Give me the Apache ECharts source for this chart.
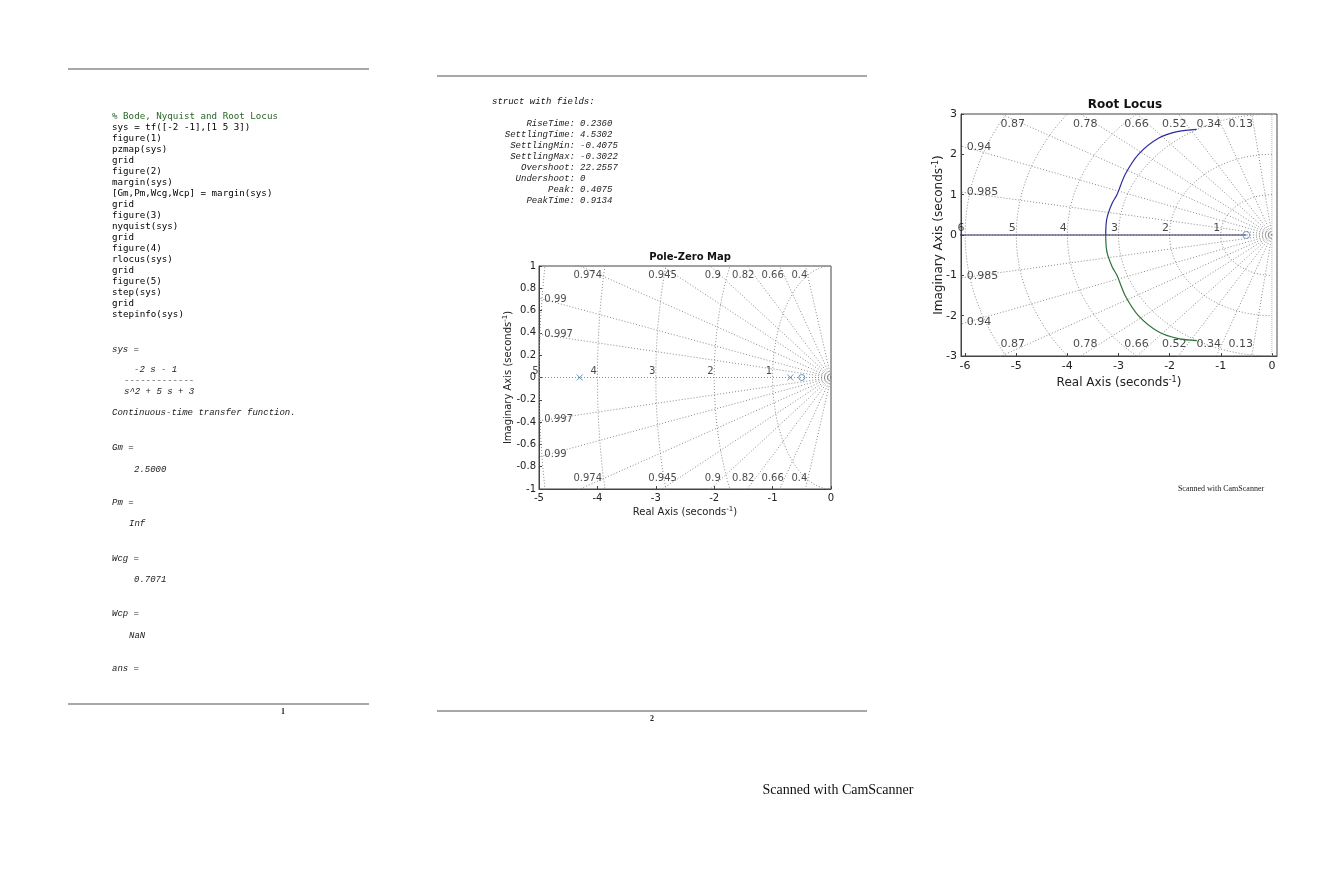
<!DOCTYPE html>
<html lang="en">
<head>
<meta charset="UTF-8">
<title>Pole-Zero Map / Root Locus</title>
<style>
html, body { margin: 0; padding: 0; background: #fff; }
#main { width: 1341px; height: 887px; }
</style>
</head>
<body>
<div id="main"></div>
<script src="https://cdn.jsdelivr.net/npm/echarts/dist/echarts.min.js"></script>
<script>
// --- data ---
var pzPoles = [[-4.303, 0], [-0.697, 0]];
var pzZeros = [[-0.5, 0]];
var pzDamping = [0.4, 0.66, 0.82, 0.9, 0.945, 0.974, 0.99, 0.997];
var pzFreq = [1, 2, 3, 4, 5];

var rlDamping = [0.13, 0.34, 0.52, 0.66, 0.78, 0.87, 0.94, 0.985];
var rlFreq = [1, 2, 3, 4, 5, 6];
var rlReal = [[-6.1, 0], [-0.5, 0]];
var rlUpper = [[-3.25, 0], [-3.24, 0.3], [-3.21, 0.5], [-3.12, 0.8], [-3.03, 1.0], [-2.87, 1.5],
               [-2.61, 2.0], [-2.22, 2.4], [-1.83, 2.57], [-1.47, 2.62]];
var rlLower = [[-3.25, 0], [-3.24, -0.3], [-3.21, -0.5], [-3.12, -0.8], [-3.03, -1.0], [-2.87, -1.5],
               [-2.61, -2.0], [-2.22, -2.4], [-1.83, -2.57], [-1.47, -2.62]];
var rlZeros = [[-0.5, 0]];

var codeLines = [
  'sys = tf([-2 -1],[1 5 3])', 'figure(1)', 'pzmap(sys)', 'grid', 'figure(2)', 'margin(sys)',
  '[Gm,Pm,Wcg,Wcp] = margin(sys)', 'grid', 'figure(3)', 'nyquist(sys)', 'grid', 'figure(4)',
  'rlocus(sys)', 'grid', 'figure(5)', 'step(sys)', 'grid', 'stepinfo(sys)'
];
var stepFields = ['RiseTime:', 'SettlingTime:', 'SettlingMin:', 'SettlingMax:', 'Overshoot:', 'Undershoot:', 'Peak:', 'PeakTime:'];
var stepValues = ['0.2360', '4.5302', '-0.4075', '-0.3022', '22.2557', '0', '0.4075', '0.9134'];

var SANS = '"DejaVu Sans", sans-serif';
var MONO = '"DejaVu Sans Mono", monospace';
var CMONO = '"Liberation Mono", monospace';
var SERIF = '"Liberation Serif", serif';
var GRIDC = '#8a8a8a';

// sgrid helpers
function dampLines(zs) {
  var out = [];
  zs.forEach(function (z) {
    var s = Math.sqrt(1 - z * z);
    out.push({ coords: [[0, 0], [-20 * z, 20 * s]] });
    out.push({ coords: [[0, 0], [-20 * z, -20 * s]] });
  });
  out.push({ coords: [[0, 0], [-20, 0]] });
  return out;
}
function freqArcs(ws) {
  return ws.map(function (w) {
    var pts = [];
    for (var a = 90; a <= 270; a += 3) {
      var t = a * Math.PI / 180;
      pts.push([w * Math.cos(t), w * Math.sin(t)]);
    }
    return { coords: pts };
  });
}
function dampLabels(zs, xmin, ymax) {
  var items = [];
  zs.forEach(function (z) {
    var k = Math.sqrt(1 - z * z) / z;
    var yt = 0.91 * ymax, xt = -yt / k;
    if (xt > xmin * 0.9) {
      items.push({ name: String(z), value: [xt, yt], label: { align: 'right' } });
      items.push({ name: String(z), value: [xt, -yt], label: { align: 'right' } });
    } else {
      var xl = xmin * 0.98;
      items.push({ name: String(z), value: [xl, -xl * k], label: { align: 'left' } });
      items.push({ name: String(z), value: [xl, xl * k], label: { align: 'left' } });
    }
  });
  return items;
}
function freqLabels(ws) {
  return ws.map(function (w) { return { name: String(w), value: [-w, 0] }; });
}

function gridSeries(idx, zs, ws, xmin, ymax, fs) {
  return [
    { type: 'lines', coordinateSystem: 'cartesian2d', xAxisIndex: idx, yAxisIndex: idx,
      polyline: true, clip: true, silent: true, z: 1,
      lineStyle: { color: GRIDC, width: 1, type: [1, 2], opacity: 1 },
      data: dampLines(zs).concat(freqArcs(ws)) },
    { type: 'scatter', xAxisIndex: idx, yAxisIndex: idx, symbolSize: 1, silent: true, z: 3,
      itemStyle: { color: 'transparent' },
      label: { show: true, position: [0, 0], verticalAlign: 'middle', fontSize: fs, fontFamily: SANS,
               color: '#1a1a1a', formatter: function (p) { return p.name; } },
      data: dampLabels(zs, xmin, ymax) },
    { type: 'scatter', xAxisIndex: idx, yAxisIndex: idx, symbolSize: 1, silent: true, z: 3,
      itemStyle: { color: 'transparent' },
      label: { show: true, position: [0, -1], align: 'right', verticalAlign: 'bottom', fontSize: fs,
               fontFamily: SANS, color: '#1a1a1a', formatter: function (p) { return p.name; } },
      data: freqLabels(ws) }
  ];
}

function axisCommon(fs, nameFs) {
  return {
    type: 'value',
    axisLine: { show: true, onZero: false, lineStyle: { color: '#444', width: 1 } },
    axisTick: { show: true, inside: true, length: 3, lineStyle: { color: '#444' } },
    splitLine: { show: false },
    axisLabel: { fontSize: fs, color: '#222', fontFamily: SANS },
    nameLocation: 'middle',
    nameMoveOverlap: false,
    nameTextStyle: { fontSize: nameFs, color: '#222', fontFamily: SANS,
      rich: { s: { fontSize: Math.round(nameFs * 0.7), fontFamily: SANS, color: '#222', verticalAlign: 'top', padding: [0, 0, nameFs * 0.5, 0] } } }
  };
}

// --- page text ---
var g = [];
function txt(t, x, y, font, fill, align) {
  g.push({ type: 'text', x: x, y: y, silent: true,
    style: { text: t, font: font, fill: fill || '#222', align: align || 'left', verticalAlign: 'middle' } });
}
function hline(x1, x2, y) {
  g.push({ type: 'line', silent: true, shape: { x1: x1, y1: y, x2: x2, y2: y },
    style: { stroke: '#a8a8a8', lineWidth: 2 } });
}
hline(68, 369, 69); hline(68, 369, 704);
hline(437, 867, 76); hline(437, 867, 711);
txt('1', 283, 712, 'bold 8px ' + SERIF, '#222', 'center');
txt('2', 652, 719, 'bold 8px ' + SERIF, '#222', 'center');

txt('% Bode, Nyquist and Root Locus', 112, 117, '9.2px ' + MONO, '#2a662a');
codeLines.forEach(function (l, i) { txt(l, 112, 128 + i * 11, '9.2px ' + MONO, '#000'); });

var IT = 'italic 9px ' + CMONO;
txt('sys =', 112, 350, IT, '#222');
txt('-2 s - 1', 134, 370, IT, '#222');
txt('-------------', 124, 381, IT, '#222');
txt('s^2 + 5 s + 3', 124, 392, IT, '#222');
txt('Continuous-time transfer function.', 112, 413, IT, '#222');
txt('Gm =', 112, 448, IT, '#222');
txt('2.5000', 134, 470, IT, '#222');
txt('Pm =', 112, 503, IT, '#222');
txt('Inf', 129, 524, IT, '#222');
txt('Wcg =', 112, 559, IT, '#222');
txt('0.7071', 134, 580, IT, '#222');
txt('Wcp =', 112, 614, IT, '#222');
txt('NaN', 129, 636, IT, '#222');
txt('ans =', 112, 669, IT, '#222');

txt('struct with fields:', 492, 102, IT, '#111');
stepFields.forEach(function (f, i) {
  txt(f, 575, 124 + i * 11, IT, '#222', 'right');
  txt(stepValues[i], 580, 124 + i * 11, IT, '#222');
});

txt('Scanned with CamScanner', 1221, 489, '8px ' + SERIF, '#222', 'center');
txt('Scanned with CamScanner', 838, 790, '14px ' + SERIF, '#111', 'center');

// --- chart ---
var chart = echarts.init(document.getElementById('main'));

var xPZ = axisCommon(10, 10);
Object.assign(xPZ, { gridIndex: 0, min: -5, max: 0, interval: 1, name: 'Real Axis (seconds{s|-1})', nameGap: 17 });
xPZ.axisLabel.margin = 4;
var yPZ = axisCommon(10, 10);
Object.assign(yPZ, { gridIndex: 0, min: -1, max: 1, interval: 0.2, name: 'Imaginary Axis (seconds{s|-1})', nameGap: 25 });
yPZ.axisLabel.margin = 3;

var xRL = axisCommon(11, 12);
Object.assign(xRL, { gridIndex: 1, min: -6.08, max: 0.1, splitNumber: 6, name: 'Real Axis (seconds{s|-1})', nameGap: 20 });
xRL.axisLabel.margin = 5;
xRL.axisLabel.showMinLabel = false;
xRL.axisLabel.showMaxLabel = false;
xRL.axisLabel.formatter = function (v) { return Math.abs(v - Math.round(v)) < 1e-6 ? String(Math.round(v)) : ''; };
var yRL = axisCommon(11, 12);
Object.assign(yRL, { gridIndex: 1, min: -3, max: 3, interval: 1, name: 'Imaginary Axis (seconds{s|-1})', nameGap: 15 });
yRL.axisLabel.margin = 4;

var series = []
  .concat(gridSeries(0, pzDamping, pzFreq, -5, 1, 10))
  .concat(gridSeries(1, rlDamping, rlFreq, -6.08, 3, 11))
  .concat([
    { type: 'scatter', xAxisIndex: 0, yAxisIndex: 0, z: 5, symbol: 'path://M0,0L10,10M10,0L0,10', symbolSize: 6,
      itemStyle: { color: 'none', borderColor: '#3f7fa6', borderWidth: 1 }, data: pzPoles },
    { type: 'scatter', xAxisIndex: 0, yAxisIndex: 0, z: 5, symbol: 'circle', symbolSize: 6,
      itemStyle: { color: 'none', borderColor: '#3f7fa6', borderWidth: 1 }, data: pzZeros },
    { type: 'line', xAxisIndex: 1, yAxisIndex: 1, z: 4, data: rlReal, showSymbol: false, clip: true,
      lineStyle: { color: '#2a2a5e', width: 1.2 } },
    { type: 'line', xAxisIndex: 1, yAxisIndex: 1, z: 4, data: rlUpper, showSymbol: false, smooth: 0.3,
      lineStyle: { color: '#2d2d9c', width: 1.2 } },
    { type: 'line', xAxisIndex: 1, yAxisIndex: 1, z: 4, data: rlLower, showSymbol: false, smooth: 0.3,
      lineStyle: { color: '#2f6f3a', width: 1.2 } },
    { type: 'scatter', xAxisIndex: 1, yAxisIndex: 1, z: 5, symbol: 'circle', symbolSize: 7,
      itemStyle: { color: 'none', borderColor: '#5b87c8', borderWidth: 1 }, data: rlZeros },
    { type: 'line', xAxisIndex: 1, yAxisIndex: 1, z: 2, data: [[0, -3], [0, 3]], showSymbol: false,
      lineStyle: { color: '#e2a5a5', width: 1, type: [1, 1] } }
  ]);

chart.setOption({
  animation: false,
  backgroundColor: '#fff',
  title: [
    { text: 'Pole-Zero Map', left: 685, top: 247, textAlign: 'center',
      textStyle: { fontSize: 10, fontWeight: 'bold', color: '#111', fontFamily: SANS } },
    { text: 'Root Locus', left: 1120, top: 94, textAlign: 'center',
      textStyle: { fontSize: 12, fontWeight: 'bold', color: '#111', fontFamily: SANS } }
  ],
  grid: [
    { left: 539, top: 266, width: 292, height: 223, show: true, borderColor: '#444', borderWidth: 1, backgroundColor: '#fff' },
    { left: 961, top: 114, width: 316, height: 242, show: true, borderColor: '#444', borderWidth: 1, backgroundColor: '#fff' }
  ],
  xAxis: [xPZ, xRL],
  yAxis: [yPZ, yRL],
  series: series,
  graphic: g
});
</script>
</body>
</html>
